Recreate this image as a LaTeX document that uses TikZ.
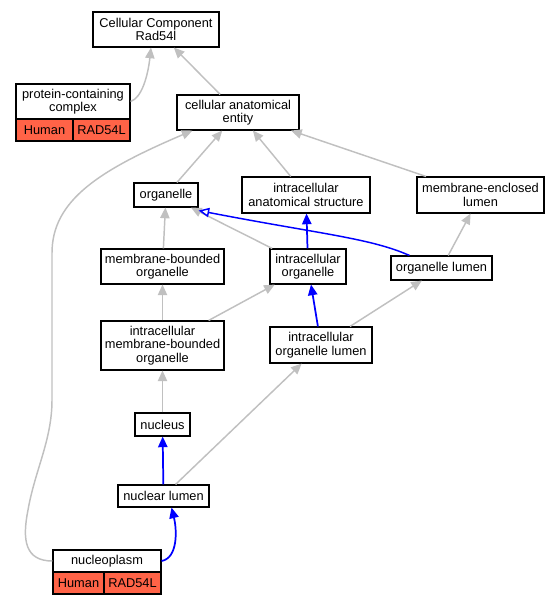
\documentclass[tikz,border=0pt]{standalone}
\usepackage{fontspec}
\setmainfont{Liberation Sans}
\usetikzlibrary{arrows.meta,calc}
\definecolor{edgegray}{HTML}{C0C0C0}
\definecolor{tomatored}{HTML}{FF6347}
\begin{document}
\begin{tikzpicture}[x=0.75pt,y=-0.75pt,
  box/.style={draw=black, line width=0.8pt, fill=white, inner sep=0pt, align=center,
    font=\fontsize{9.6}{10.1}\selectfont},
  cell/.style={box, fill=tomatored},
  ge/.style={draw=edgegray, line width=1.1pt, -{Triangle[length=8pt,width=7pt]}},
  be/.style={draw=blue, line width=1.3pt, -{Triangle[length=8pt,width=7pt]}},
  bo/.style={draw=blue, line width=1.1pt, -{Triangle[open,length=8pt,width=7pt]}},
]
\useasboundingbox (0,0) rectangle (559,605);

% nodes
\node[box, minimum width=94.5pt, minimum height=26.25pt] (cc) at (156,29.5) {Cellular Component\\Rad54l};
\node[box, minimum width=85.5pt, minimum height=26.25pt] (pcc) at (73,101.5) {protein-containing\\complex};
\node[cell, minimum width=42.75pt, minimum height=16.5pt] (pcch) at (44.5,130) {Human};
\node[cell, minimum width=42.75pt, minimum height=16.5pt] (pccr) at (101.5,130) {RAD54L};
\node[box, minimum width=91.5pt, minimum height=26.25pt] (cae) at (238,112.5) {cellular anatomical\\entity};
\node[box, minimum width=48pt, minimum height=18pt] (organelle) at (166,195) {organelle};
\node[box, minimum width=96pt, minimum height=27pt] (ias) at (306,195) {intracellular\\anatomical structure};
\node[box, minimum width=95.25pt, minimum height=27pt] (mel) at (480.5,195) {membrane-enclosed\\lumen};
\node[box, minimum width=92.25pt, minimum height=26.25pt] (mbo) at (162.5,266.5) {membrane-bounded\\organelle};
\node[box, minimum width=57pt, minimum height=26.25pt] (io) at (308,266.5) {intracellular\\organelle};
\node[box, minimum width=75.75pt, minimum height=18pt] (ol) at (441.5,268) {organelle lumen};
\node[box, minimum width=92.25pt, minimum height=36.75pt] (imbo) at (162.5,345.5) {intracellular\\membrane-bounded\\organelle};
\node[box, minimum width=76.5pt, minimum height=27pt] (iol) at (321,345) {intracellular\\organelle lumen};
\node[box, minimum width=41.25pt, minimum height=17.25pt] (nucleus) at (162.5,424.5) {nucleus};
\node[box, minimum width=68.25pt, minimum height=16.5pt] (nl) at (163.5,496) {nuclear lumen};
\node[box, minimum width=81pt, minimum height=16.5pt] (np) at (107,561) {nucleoplasm};
\node[cell, minimum width=38.25pt, minimum height=16.5pt] (nph) at (78.5,583) {Human};
\node[cell, minimum width=42.75pt, minimum height=16.5pt] (npr) at (132.5,583) {RAD54L};

% edges
\draw[ge] (pcc.east) .. controls (142,98) and (148,75) .. ($(cc.south)+(-5,0)$);
\draw[ge] (cae) -- (cc);
\draw[ge] (organelle) -- (cae);
\draw[ge] (ias) -- (cae);
\draw[ge] (mel) -- (cae);
\draw[ge] (np.west) .. controls (25,561) and (22,540) .. (28,510)
   .. controls (35,470) and (52,440) .. (52,400) -- (52,253)
   .. controls (52,200) and (100,170) .. ($(cae.south west)+(16,0)$);
\draw[ge] (mbo) -- (organelle);
\draw[ge] (io) -- (organelle);
\draw[bo] ($(ol.north west)+(19,0)$) .. controls (370,238) and (320,234) .. ($(organelle.south east)+(0,3)$);
\draw[be] (io) -- (ias);
\draw[ge] (ol) -- (mel);
\draw[ge] (imbo) -- (mbo);
\draw[ge] (imbo) -- (io);
\draw[be] (iol) -- (io);
\draw[ge] (iol) -- (ol);
\draw[ge] (nucleus) -- (imbo);
\draw[be] (nl) -- (nucleus);
\draw[ge] (nl) -- (iol);
\draw[be] (np.east) .. controls (178,558) and (177,530) .. ($(nl.south)+(8,0)$);
\end{tikzpicture}
\end{document}
